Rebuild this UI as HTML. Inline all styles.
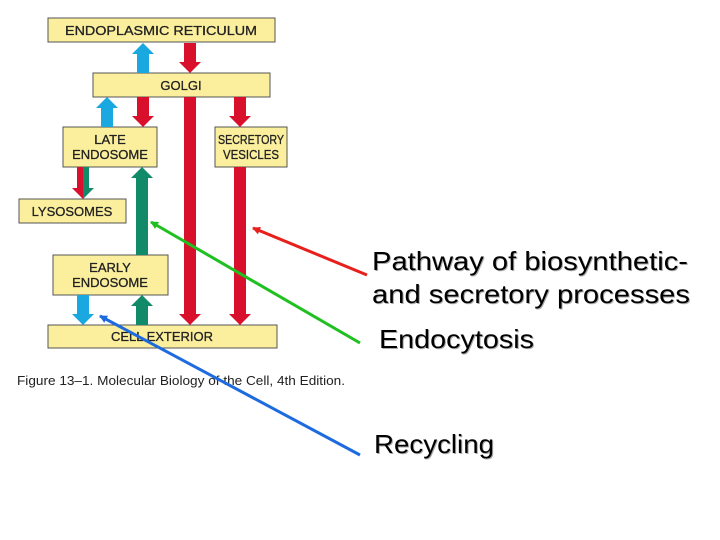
<!DOCTYPE html>
<html><head><meta charset="utf-8"><style>
html,body{margin:0;padding:0;background:#fff;width:720px;height:540px;overflow:hidden}
svg{display:block}
.box{fill:#fbee9c;stroke:#555;stroke-width:1}
.bt{font-family:"Liberation Sans",sans-serif;font-size:13px;fill:#222;text-anchor:middle;stroke:#222;stroke-width:0.3}
.big{font-family:"Liberation Sans",sans-serif;font-size:26px;fill:#000;filter:drop-shadow(1px 1px 0 #aaa)}
</style></head><body>
<svg width="720" height="540" viewBox="0 0 720 540">
<defs>
<marker id="ar" markerWidth="8" markerHeight="8" refX="7" refY="4" orient="auto" markerUnits="userSpaceOnUse"><path d="M0,0 L8,4 L0,8 z" fill="#e8201c"/></marker>
<marker id="ag" markerWidth="8" markerHeight="8" refX="7" refY="4" orient="auto" markerUnits="userSpaceOnUse"><path d="M0,0 L8,4 L0,8 z" fill="#20c020"/></marker>
<marker id="ab" markerWidth="8" markerHeight="8" refX="7" refY="4" orient="auto" markerUnits="userSpaceOnUse"><path d="M0,0 L8,4 L0,8 z" fill="#1e6be0"/></marker>
</defs>
<rect class="box" x="48" y="18" width="227" height="24"/>
<text class="bt" x="161" y="35" textLength="192" lengthAdjust="spacingAndGlyphs">ENDOPLASMIC RETICULUM</text>
<rect class="box" x="93" y="73" width="177" height="24"/>
<text class="bt" x="181" y="90">GOLGI</text>
<rect class="box" x="63" y="127" width="94" height="40"/>
<text class="bt" x="110" y="144">LATE</text><text class="bt" x="110" y="159">ENDOSOME</text>
<rect class="box" x="215" y="127" width="72" height="40"/>
<text class="bt" x="251" y="144" textLength="66" lengthAdjust="spacingAndGlyphs">SECRETORY</text><text class="bt" x="251" y="159" textLength="56" lengthAdjust="spacingAndGlyphs">VESICLES</text>
<rect class="box" x="19" y="199" width="107" height="24"/>
<text class="bt" x="72" y="216">LYSOSOMES</text>
<rect class="box" x="53" y="255" width="115" height="40"/>
<text class="bt" x="110" y="272">EARLY</text><text class="bt" x="110" y="287">ENDOSOME</text>
<rect class="box" x="48" y="325" width="229" height="23"/>
<text class="bt" x="162" y="341">CELL EXTERIOR</text>
<g>
<path fill="#1aa8e0" d="M137,73 V54 H132 L143,43 L154,54 H149 V73 Z"/>
<path fill="#d8102c" d="M184,43 V62 H179 L190,73 L201,62 H196 V43 Z"/>
<path fill="#1aa8e0" d="M101,127 V108 H96 L107,97 L118,108 H113 V127 Z"/>
<path fill="#d8102c" d="M137,97 V116 H132 L143,127 L154,116 H149 V97 Z"/>
<path fill="#d8102c" d="M184,97 V314 H179 L190,325 L201,314 H196 V97 Z"/>
<path fill="#d8102c" d="M234,97 V116 H229 L240,127 L251,116 H246 V97 Z"/>
<path fill="#d8102c" d="M234,167 V314 H229 L240,325 L251,314 H246 V167 Z"/>
<path fill="#d8102c" d="M77,167 V188 H72 L83,199 L83,167 Z"/>
<path fill="#108a68" d="M83,167 V199 L94,188 H89 V167 Z"/>
<path fill="#108a68" d="M136,255 V178 H131 L142,167 L153,178 H148 V255 Z"/>
<path fill="#1aa8e0" d="M77,295 V314 H72 L83,325 L94,314 H89 V295 Z"/>
<path fill="#108a68" d="M136,325 V306 H131 L142,295 L153,306 H148 V325 Z"/>
</g>
<text x="17" y="385" font-family="Liberation Sans,sans-serif" font-size="13" fill="#222" textLength="328" lengthAdjust="spacingAndGlyphs">Figure 13–1. Molecular Biology of the Cell, 4th Edition.</text>
<line x1="367" y1="275" x2="253" y2="228" stroke="#e8201c" stroke-width="3" marker-end="url(#ar)"/>
<line x1="360" y1="343" x2="151" y2="222" stroke="#20c020" stroke-width="3" marker-end="url(#ag)"/>
<line x1="360" y1="455" x2="100" y2="316" stroke="#1e6be0" stroke-width="3" marker-end="url(#ab)"/>
<text class="big" x="372" y="270" textLength="316" lengthAdjust="spacingAndGlyphs">Pathway of biosynthetic-</text>
<text class="big" x="372" y="303" textLength="318" lengthAdjust="spacingAndGlyphs">and secretory processes</text>
<text class="big" x="379" y="348" textLength="155" lengthAdjust="spacingAndGlyphs">Endocytosis</text>
<text class="big" x="374" y="453" textLength="120" lengthAdjust="spacingAndGlyphs">Recycling</text>
</svg>
</body></html>
